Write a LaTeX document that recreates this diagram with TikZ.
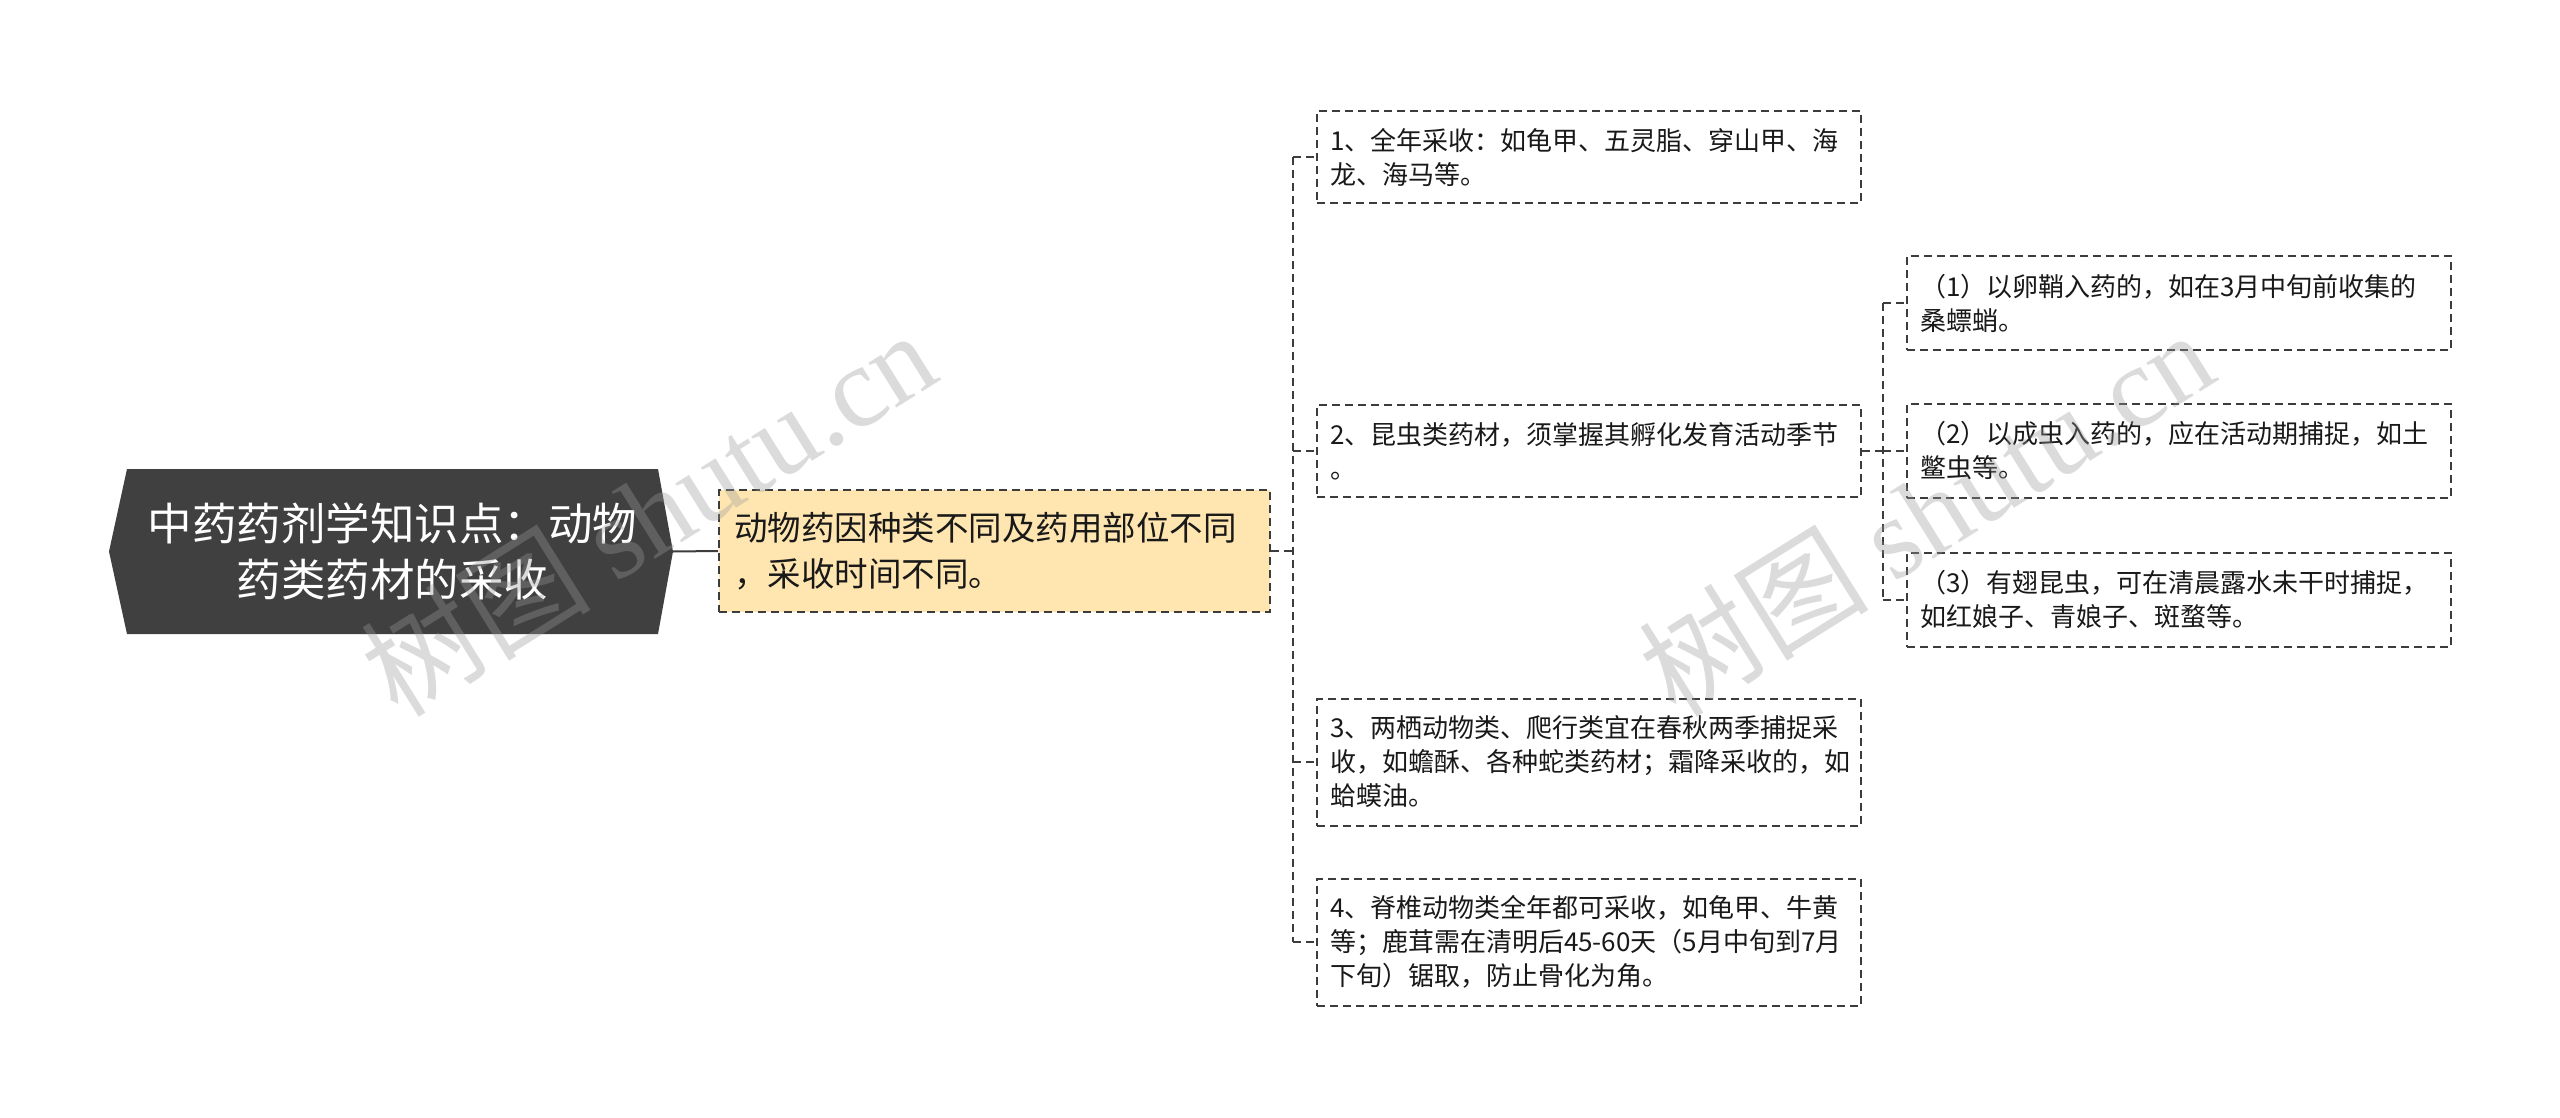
\documentclass[tikz,border=0pt]{standalone}
\usepackage{fontspec}
\setmainfont{Noto Sans CJK SC}
\newfontfamily\cjk{Noto Sans CJK SC}
\newfontfamily\wmlat{Liberation Serif}
\usetikzlibrary{calc}
\definecolor{linec}{HTML}{3C3C3C}
\definecolor{rootfill}{HTML}{404040}
\definecolor{yfill}{HTML}{FFE6B0}
\definecolor{wmc}{HTML}{9A9A9A}
\tikzset{
  dbox/.style={draw=linec, line width=2pt, dash pattern=on 8pt off 5pt, fill=white,
    anchor=west, inner xsep=13pt, inner ysep=0pt, text width=518pt, align=left,
    font=\cjk\fontsize{26}{34}\selectfont, text=black!90},
  conn/.style={draw=linec, line width=2pt, dash pattern=on 8pt off 5pt},
  wm/.style={text=wmc, opacity=0.35, rotate=32, font=\fontsize{115}{115}\selectfont}
}
\begin{document}
\begin{tikzpicture}[x=1pt,y=-1pt]
\useasboundingbox (0,0) rectangle (2560,1118);
\fill[white] (0,0) rectangle (2560,1118);

% root
\coordinate (rNW) at (127,469);
\coordinate (rNE) at (658,469);
\coordinate (rR) at (673,551.5);
\coordinate (rSE) at (658,634);
\coordinate (rSW) at (127,634);
\coordinate (rL) at (109,551.5);
\fill[rootfill] (rNW) -- (rNE) -- (rR) -- (rSE) -- (rSW) -- (rL) -- cycle;
\node[minimum width=531pt, minimum height=165pt, inner sep=0pt, align=center,
  text=white, font=\cjk\fontsize{44.5}{56}\selectfont] (root) at (392.5,551.5)
  {中药药剂学知识点：动物\\药类药材的采收};

% yellow
\node[draw=linec, line width=2pt, dash pattern=on 8pt off 5pt, fill=yfill,
  anchor=west, inner xsep=15pt, inner ysep=0pt, text width=521pt, minimum height=122pt,
  align=left, font=\cjk\fontsize{33.5}{46}\selectfont, text=black!90] (y) at (718,551)
  {动物药因种类不同及药用部位不同\\，采收时间不同。};
\draw[linec, line width=2pt] (rR) -- (y.west);

% level 2
\node[dbox, minimum height=92pt] (b1) at (1316,157)
  {1、全年采收：如龟甲、五灵脂、穿山甲、海\\龙、海马等。};
\node[dbox, minimum height=92pt] (b2) at (1316,451)
  {2、昆虫类药材，须掌握其孵化发育活动季节\\。};
\node[dbox, minimum height=127pt] (b3) at (1316,762)
  {3、两栖动物类、爬行类宜在春秋两季捕捉采\\收，如蟾酥、各种蛇类药材；霜降采收的，如\\蛤蟆油。};
\node[dbox, minimum height=127pt] (b4) at (1316,942)
  {4、脊椎动物类全年都可采收，如龟甲、牛黄\\等；鹿茸需在清明后45-60天（5月中旬到7月\\下旬）锯取，防止骨化为角。};

\coordinate (s1) at (1293,551);
\draw[conn] (y.east) -- (s1);
\draw[conn] (s1 |- b1.west) -- (s1 |- b4.west);
\foreach \b in {b1,b2,b3,b4} { \draw[conn] (s1 |- \b.west) -- (\b.west); }

% level 3
\node[dbox, minimum height=94pt] (c1) at (1906,303)
  {（1）以卵鞘入药的，如在3月中旬前收集的\\桑螵蛸。};
\node[dbox, minimum height=94pt] (c2) at (1906,451)
  {（2）以成虫入药的，应在活动期捕捉，如土\\鳖虫等。};
\node[dbox, minimum height=94pt] (c3) at (1906,600)
  {（3）有翅昆虫，可在清晨露水未干时捕捉，\\如红娘子、青娘子、斑蝥等。};

\coordinate (s2) at (1883,451);
\draw[conn] (b2.east) -- (s2);
\draw[conn] (s2 |- c1.west) -- (s2 |- c3.west);
\foreach \c in {c1,c2,c3} { \draw[conn] (s2 |- \c.west) -- (\c.west); }

% watermarks
\node[wm] (w1) at (648,512) {\cjk 树图 \wmlat shutu.cn};
\node[wm] (w2) at (1926,512) {\cjk 树图 \wmlat shutu.cn};
\end{tikzpicture}
\end{document}
